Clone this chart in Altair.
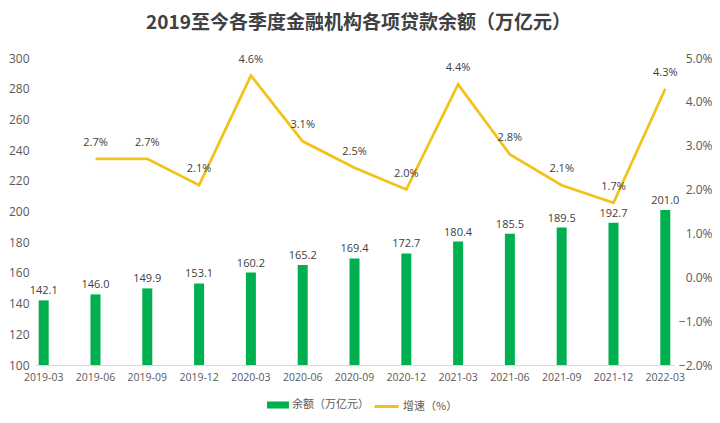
import altair as alt
import pandas as pd

quarters = ["2019-03", "2019-06", "2019-09", "2019-12", "2020-03", "2020-06", "2020-09",
            "2020-12", "2021-03", "2021-06", "2021-09", "2021-12", "2022-03"]
balance = [142.1, 146.0, 149.9, 153.1, 160.2, 165.2, 169.4, 172.7, 180.4, 185.5, 189.5, 192.7, 201.0]
growth = [None, 2.7, 2.7, 2.1, 4.6, 3.1, 2.5, 2.0, 4.4, 2.8, 2.1, 1.7, 4.3]
left_ticks = [100, 120, 140, 160, 180, 200, 220, 240, 260, 280, 300]
right_ticks = [-2, -1, 0, 1, 2, 3, 4, 5]

bar_name = "余额（万亿元）"
line_name = "增速（%）"
title_text = "2019至今各季度金融机构各项贷款余额（万亿元）"

GREEN = "#00B050"
YELLOW = "#F2C21B"
FONT = "'Open Sans', 'Noto Sans CJK SC', sans-serif"
CJK = "'Noto Sans CJK SC', sans-serif"

df = pd.DataFrame({"quarter": quarters, "balance": balance, "growth": growth})
df["s1"] = bar_name
df["s2"] = line_name

x = alt.X(
    "quarter:N", sort=quarters,
    scale=alt.Scale(paddingInner=0.664, paddingOuter=0),
    axis=alt.Axis(title=None, labelAngle=0, ticks=False, labelPadding=7, labelFontSize=10.5,
                  labelColor="#595959", domainColor="#D9D9D9", labelFont=FONT),
)

y_left_scale = alt.Scale(domain=[100, 300], nice=False, zero=False)
y_right_scale = alt.Scale(domain=[-2, 5], nice=False, zero=False)

left_axis = alt.Axis(title=None, values=left_ticks, orient="left", domain=False, ticks=False,
                     tickSize=0, labelPadding=6, labelFontSize=12, labelColor="#595959",
                     labelFont=FONT, grid=False)
right_axis = alt.Axis(title=None, orient="right", values=right_ticks,
                      labelExpr="format(datum.value, '.1f') + '%'", labelAlign="right",
                      labelPadding=38, domain=False, ticks=False, tickSize=0,
                      labelFontSize=12, labelColor="#595959", labelFont=FONT, grid=False)

base = alt.Chart(df)

bars = base.mark_bar(size=10).encode(
    x=x,
    y=alt.Y("balance:Q", scale=y_left_scale, axis=left_axis),
    y2=alt.datum(100),
    color=alt.Color("s1:N", scale=alt.Scale(domain=[bar_name], range=[GREEN]),
                    legend=alt.Legend(title=None, orient="none", legendX=232, legendY=336,
                                      symbolType="M-1,-0.32H1V0.32H-1Z", symbolSize=484,
                                      symbolStrokeWidth=0, labelFontSize=11, labelColor="#595959",
                                      labelFont=CJK, labelOffset=3)),
)

bar_text = base.mark_text(baseline="bottom", dy=-4, fontSize=11, color="#404040", font=FONT).encode(
    x=x,
    y=alt.Y("balance:Q", scale=y_left_scale, axis=left_axis),
    text=alt.Text("balance:Q", format=".1f"),
)

line = base.mark_line(strokeWidth=2.75).encode(
    x=x,
    y=alt.Y("growth:Q", scale=y_right_scale, axis=right_axis),
    stroke=alt.Stroke("s2:N", scale=alt.Scale(domain=[line_name], range=[YELLOW]),
                      legend=alt.Legend(title=None, orient="none", legendX=338, legendY=335,
                                        symbolType="stroke", symbolSize=576, symbolStrokeWidth=3,
                                        labelFontSize=11, labelColor="#595959", labelFont=CJK,
                                        labelOffset=3)),
)

line_text = base.transform_filter("datum.growth != null").transform_calculate(
    lab="format(datum.growth, '.1f') + '%'"
).mark_text(baseline="bottom", dy=-11, fontSize=11, color="#404040", font=FONT).encode(
    x=x,
    y=alt.Y("growth:Q", scale=y_right_scale, axis=right_axis),
    text="lab:N",
)

chart = alt.layer(
    alt.layer(bars, bar_text),
    alt.layer(line, line_text),
).resolve_scale(y="independent").properties(
    width=639,
    height=307,
    autosize=alt.AutoSizeParams(type="none"),
    padding={"left": 27, "top": 50, "right": 38, "bottom": 50},
    title=alt.TitleParams(title_text, fontSize=19, font=CJK, fontWeight="bold", color="#404040",
                          anchor="middle", offset=19, dx=4),
    background="white",
).configure_view(stroke=None)

chart.save("out.html", embed_options={"renderer": "svg", "actions": False})
